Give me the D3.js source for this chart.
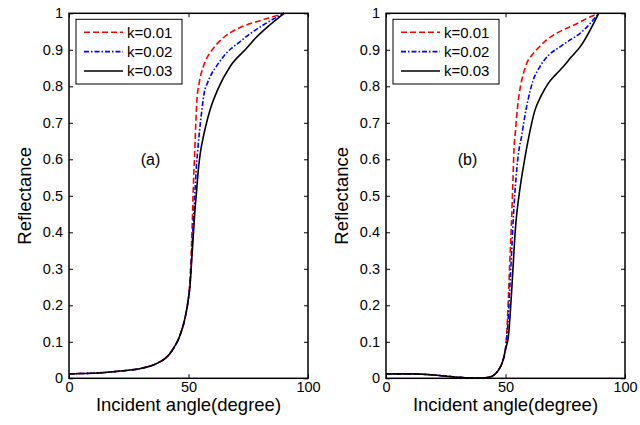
<!DOCTYPE html>
<html>
<head>
<meta charset="utf-8">
<script src="https://cdn.jsdelivr.net/npm/d3@7"></script>
<style>
  body { margin: 0; background: #fff; }
  text { font-family: "Liberation Sans", Arial, sans-serif; fill: #000; }
</style>
</head>
<body>
<div id="chart"></div>
<script>
// tick labels
const xTicks = [0, 50, 100];
const yTicks = [0, 0.1, 0.2, 0.3, 0.4, 0.5, 0.6, 0.7, 0.8, 0.9, 1];
const seriesNames = ["k=0.01", "k=0.02", "k=0.03"];

// panel (a): shared low part, then each k
const lowA = [[0, 0.012], [5, 0.013], [10, 0.014], [15, 0.016], [20, 0.019], [25, 0.022], [30, 0.027],
  [35, 0.036], [38, 0.045], [40, 0.053], [42, 0.066], [44, 0.085], [46, 0.11], [47, 0.128],
  [48, 0.15], [49, 0.18], [50, 0.22]];
const a01 = [[50.5, 0.26], [51, 0.32], [51.5, 0.41], [52, 0.52], [52.6, 0.62], [53, 0.69], [53.5, 0.76],
  [54.5, 0.81], [56, 0.85], [57.5, 0.875], [60.5, 0.905], [64, 0.93], [67.5, 0.947], [73, 0.965],
  [78.5, 0.977], [84, 0.988], [90, 1.0]];
const a02 = [[50.6, 0.255], [51.3, 0.33], [52, 0.43], [52.7, 0.51], [53.3, 0.58], [53.8, 0.62],
  [54.5, 0.67], [55.5, 0.73], [56.5, 0.78], [58, 0.81], [59.5, 0.832], [62, 0.858], [66, 0.892],
  [71.5, 0.922], [76, 0.945], [81.3, 0.968], [90, 1.0]];
const a03 = [[50.6, 0.25], [51.3, 0.32], [52, 0.39], [52.7, 0.46], [53.4, 0.515], [54.1, 0.57],
  [55, 0.62], [56, 0.655], [57, 0.685], [59, 0.735], [62.5, 0.795], [67.5, 0.855], [74, 0.902],
  [78.5, 0.935], [84, 0.968], [90, 1.0]];

// panel (b)
const lowB = [[0, 0.012], [5, 0.012], [10, 0.012], [15, 0.011], [20, 0.009], [25, 0.006], [30, 0.003],
  [35, 0.001], [40, 0.001], [43, 0.003], [45, 0.008], [46, 0.014], [47, 0.022], [48, 0.033],
  [49, 0.05], [50, 0.08]];
const b01 = [[50.5, 0.12], [51.2, 0.22], [51.8, 0.32], [52.6, 0.443], [53.1, 0.54], [53.5, 0.62],
  [54.2, 0.68], [55, 0.74], [56, 0.79], [57.5, 0.835], [59, 0.865], [61, 0.885], [64, 0.907],
  [67.2, 0.927], [71, 0.944], [75.6, 0.959], [80, 0.972], [84, 0.986], [89, 1.0]];
const b02 = [[51, 0.15], [51.9, 0.26], [52.6, 0.35], [53.3, 0.443], [54.3, 0.54], [55.5, 0.62],
  [56.8, 0.665], [58, 0.715], [59.5, 0.765], [61.5, 0.815], [64.4, 0.854], [68, 0.885],
  [72.8, 0.908], [77, 0.927], [81.2, 0.945], [89, 1.0]];
const b03 = [[51.2, 0.114], [52, 0.18], [52.6, 0.242], [53.3, 0.32], [54, 0.397], [54.7, 0.45],
  [55.4, 0.488], [56.5, 0.54], [57.5, 0.58], [59.5, 0.653], [62.3, 0.734], [65, 0.775],
  [67.9, 0.808], [71, 0.832], [74.2, 0.854], [77.5, 0.88], [81.2, 0.908], [89, 1.0]];

const panels = [
  { left: 69, tag: "(a)", series: [lowA.concat(a01), lowA.concat(a02), lowA.concat(a03)] },
  { left: 386, tag: "(b)", series: [lowB.concat(b01), lowB.concat(b02), lowB.concat(b03)] }
];

const styles = [
  { color: "#ff0000", dash: "6,3" },
  { color: "#0000ff", dash: "5,2,1.5,2" },
  { color: "#000000", dash: null }
];

const width = 640, height = 425;
const plotW = 239, plotTop = 13.3, plotBottom = 378.3;

const svg = d3.select("#chart").append("svg")
  .attr("width", width)
  .attr("height", height);

svg.append("rect").attr("width", width).attr("height", height).attr("fill", "#fff");

panels.forEach(p => {
  const x = d3.scaleLinear().domain([0, 100]).range([p.left, p.left + plotW]);
  const y = d3.scaleLinear().domain([0, 1]).range([plotBottom, plotTop]);

  const g = svg.append("g");

  const line = d3.line()
    .x(d => x(d[0]))
    .y(d => y(d[1]))
    .curve(d3.curveMonotoneX);

  g.selectAll("path.curve")
    .data(p.series)
    .join("path")
    .attr("class", "curve")
    .attr("d", line)
    .attr("fill", "none")
    .attr("stroke", (d, i) => styles[i].color)
    .attr("stroke-width", 1.6)
    .attr("stroke-dasharray", (d, i) => styles[i].dash);

  // axes, ticks pointing inward
  g.append("g")
    .attr("transform", `translate(0,${plotBottom})`)
    .call(d3.axisBottom(x).tickValues(xTicks).tickSize(-4).tickPadding(3).tickFormat(d => d))
    .call(a => a.select(".domain").remove())
    .call(a => a.selectAll("text").attr("font-size", 14.5));
  g.append("g")
    .attr("transform", `translate(0,${plotTop})`)
    .call(d3.axisTop(x).tickValues(xTicks).tickSize(-4).tickFormat(""))
    .call(a => a.select(".domain").remove());
  g.append("g")
    .attr("transform", `translate(${p.left},0)`)
    .call(d3.axisLeft(y).tickValues(yTicks).tickSize(-4).tickPadding(6).tickFormat(d => d))
    .call(a => a.select(".domain").remove())
    .call(a => a.selectAll("text").attr("font-size", 14.5));
  g.append("g")
    .attr("transform", `translate(${p.left + plotW},0)`)
    .call(d3.axisRight(y).tickValues(yTicks).tickSize(-4).tickFormat(""))
    .call(a => a.select(".domain").remove());

  g.selectAll(".tick line").attr("stroke", "#000").attr("stroke-width", 1);

  g.append("rect")
    .attr("x", p.left).attr("y", plotTop)
    .attr("width", plotW).attr("height", plotBottom - plotTop)
    .attr("fill", "none")
    .attr("stroke", "#000")
    .attr("stroke-width", 1.5);

  // titles
  g.append("text")
    .attr("x", p.left + plotW / 2)
    .attr("y", 410.5)
    .attr("text-anchor", "middle")
    .attr("font-size", 18.5)
    .text("Incident angle(degree)");
  g.append("text")
    .attr("transform", `translate(${p.left - 38},${(plotTop + plotBottom) / 2}) rotate(-90)`)
    .attr("text-anchor", "middle")
    .attr("font-size", 18.5)
    .text("Reflectance");

  g.append("text")
    .attr("x", x(30))
    .attr("y", y(0.6))
    .attr("dy", "0.35em")
    .attr("font-size", 16)
    .text(p.tag);

  // legend
  const lg = g.append("g").attr("transform", `translate(${p.left + 7},19.3)`);
  lg.append("rect")
    .attr("width", 106).attr("height", 64.7)
    .attr("fill", "#fff")
    .attr("stroke", "#000")
    .attr("stroke-width", 1);
  seriesNames.forEach((name, i) => {
    const ly = 13 + i * 19.35;
    lg.append("line")
      .attr("x1", 8).attr("x2", 47)
      .attr("y1", ly).attr("y2", ly)
      .attr("stroke", styles[i].color)
      .attr("stroke-width", 1.6)
      .attr("stroke-dasharray", styles[i].dash);
    lg.append("text")
      .attr("x", 51)
      .attr("y", ly)
      .attr("dy", "0.35em")
      .attr("font-size", 15)
      .text(name);
  });
});
</script>
</body>
</html>
